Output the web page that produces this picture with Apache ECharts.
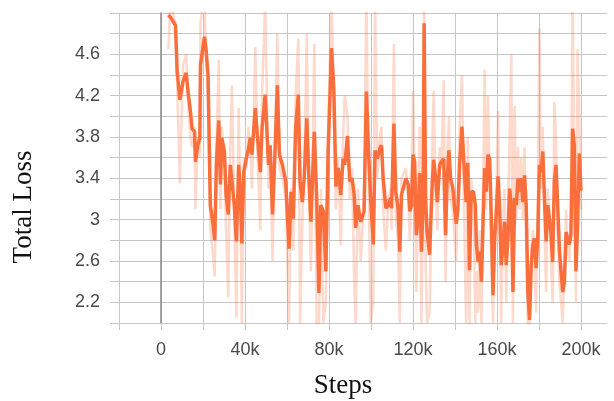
<!DOCTYPE html>
<html>
<head>
<meta charset="utf-8">
<script src="https://cdn.jsdelivr.net/npm/echarts@6/dist/echarts.min.js"></script>
<style>
html,body{margin:0;padding:0;background:#fff;}
#chart{width:614px;height:401px;}
</style>
</head>
<body>
<div id="chart"></div>
<script>
// training steps (thousands)
const steps = [3.5,4.5,6.9,7.7,9.0,10.5,12.0,12.7,14.0,14.8,16.0,16.4,17.5,18.5,18.8,20.7,21.4,22.4,23.5,24.6,25.6,26.4,27.5,28.3,29.0,30.2,31.0,32.0,33.0,33.8,34.9,35.9,37.0,37.8,38.5,39.4,40.6,41.7,42.5,43.3,44.9,46.0,47.3,48.1,49.6,
51.2,52.0,53.1,54.3,55.4,56.4,57.8,59.4,61.0,61.9,63.0,64.1,65.4,66.2,67.3,68.2,69.4,70.5,71.4,73.0,74.1,75.2,76.1,77.3,78.5,79.6,81.2,82.3,83.3,84.4,85.6,86.7,87.5,88.8,89.9,91.0,92.0,92.7,93.8,95.1,96.7,97.8,98.9,99.8,
101.1,101.9,103.0,104.2,105.0,105.8,107.1,108.2,109.3,109.8,110.9,111.8,112.9,113.7,114.5,115.3,116.6,117.7,118.5,119.3,120.0,120.8,121.6,122.4,123.2,124.0,124.8,125.3,126.0,126.7,127.9,129.0,129.8,130.8,131.6,132.7,133.5,134.6,135.5,136.3,137.1,137.9,139.0,139.8,140.6,141.4,142.2,143.3,144.2,145.3,146.1,146.9,147.7,148.8,149.7,
150.2,151.0,151.8,152.6,153.4,154.1,154.9,155.7,156.5,157.3,158.1,158.9,159.7,160.5,161.3,162.0,162.8,163.6,164.4,165.2,166.0,166.8,167.6,168.4,169.2,170.0,170.7,171.5,172.3,173.1,173.9,174.7,175.5,176.3,177.1,177.8,178.6,179.4,180.2,181.0,181.8,182.6,183.4,184.2,185.0,185.7,186.5,187.3,188.1,188.9,189.7,190.5,191.3,192.1,192.9,193.6,194.4,195.2,196.0,196.8,197.6,198.4,199.2,200.0];

// smoothed total loss
const smoothLoss = [4.98,4.96,4.88,4.43,4.16,4.34,4.42,4.27,4.05,3.88,3.85,3.56,3.72,3.79,4.50,4.77,4.66,4.40,3.14,2.98,2.80,3.56,3.96,3.34,3.79,3.66,3.24,3.05,3.53,3.37,3.14,2.79,3.53,3.27,2.77,3.46,3.59,3.69,3.79,3.63,4.08,3.79,3.46,3.88,4.21,
3.53,3.72,3.05,3.66,4.30,3.63,3.53,3.37,2.72,3.27,3.01,3.88,4.21,3.37,3.17,3.40,3.98,3.37,2.98,3.85,3.24,2.29,3.14,3.08,2.50,3.66,4.66,4.27,3.32,3.50,3.24,3.59,3.53,3.81,3.37,3.40,3.24,2.92,3.14,2.98,3.08,4.24,3.63,3.21,
2.76,3.67,3.59,3.69,3.72,3.40,3.11,3.14,3.21,3.11,3.93,3.27,3.11,2.69,3.24,3.30,3.40,3.34,3.08,3.14,3.63,3.56,2.85,3.01,3.45,2.69,3.14,4.90,3.21,2.88,2.66,3.27,3.58,3.40,3.17,3.53,3.56,3.59,2.85,3.40,3.67,3.40,3.30,3.11,2.96,3.11,3.53,3.90,3.56,3.17,3.55,2.51,3.27,3.27,3.14,
2.76,2.59,2.69,2.40,3.01,3.50,3.27,3.63,3.59,3.01,2.27,2.82,3.08,3.42,3.08,2.56,2.72,2.98,2.56,2.82,3.30,3.14,2.30,3.21,3.14,3.40,3.27,3.40,3.17,3.43,3.14,2.30,2.03,2.56,2.76,2.82,2.53,2.82,3.53,3.46,3.66,3.21,2.79,3.14,3.14,2.88,2.59,3.37,3.53,3.14,2.72,2.50,2.30,2.40,2.88,2.82,2.76,2.85,3.88,3.72,2.50,2.95,3.64,3.28];

// raw total loss
const rawLoss = [4.65,5.10,4.90,4.30,3.35,4.50,4.60,4.20,3.80,3.70,3.90,3.10,3.80,3.60,4.90,5.20,4.60,4.20,2.90,2.70,2.45,3.70,4.55,3.10,3.90,3.50,2.90,2.25,3.70,4.30,3.00,2.05,4.08,3.10,2.00,3.60,3.50,3.90,3.70,3.30,4.67,3.60,2.90,4.20,5.10,
3.30,3.60,2.60,3.80,4.80,3.50,3.40,3.20,2.00,3.30,2.70,4.20,4.75,2.00,3.00,3.50,4.80,3.20,2.50,4.70,2.00,1.90,3.30,2.00,2.20,3.90,5.20,4.00,3.10,3.60,2.75,3.80,4.20,4.00,3.20,3.50,2.40,2.00,3.30,2.60,3.20,5.20,3.30,2.00,
2.20,5.20,3.40,3.80,3.90,3.10,2.70,3.20,3.30,2.90,4.70,3.00,2.80,2.00,3.40,3.40,3.50,3.20,2.80,3.30,4.25,3.40,2.30,3.10,3.90,2.00,3.30,5.30,2.60,2.00,2.10,3.50,4.25,3.20,2.90,3.70,3.50,4.35,2.40,3.60,4.00,3.20,3.10,2.80,2.60,3.30,3.90,4.40,3.20,2.00,3.80,1.95,3.40,3.10,2.00,
2.50,2.10,2.90,2.00,3.30,4.45,3.10,4.20,3.40,2.60,2.00,2.90,3.20,4.05,2.90,2.00,2.90,3.30,2.20,3.00,3.80,4.60,2.00,4.10,3.00,3.70,3.10,3.60,3.00,3.70,2.80,2.00,1.90,2.70,2.90,2.60,2.10,3.10,4.85,3.30,3.90,3.00,2.30,3.30,3.00,2.60,2.20,4.14,3.80,2.90,2.40,2.20,2.00,2.50,3.10,2.70,2.60,3.00,5.20,3.50,2.20,4.65,4.00,3.10];

// axis ticks
const xTickLabels = ['0','40k','80k','120k','160k','200k'];
const yTickLabels = ['2.2','2.6','3','3.4','3.8','4.2','4.6'];

const chart = echarts.init(document.getElementById('chart'), null, {renderer:'canvas'});
const gridColor = '#c6c6c6';
const labelColor = '#4a4a4a';

const smoothData = steps.map((s,i)=>[s*1000, smoothLoss[i]]);
const rawData = steps.map((s,i)=>[s*1000, rawLoss[i]]);

chart.setOption({
  animation:false,
  backgroundColor:'#fff',
  grid:[
    {left:110, right:7, top:13, bottom:78},
    {left:119, right:33, top:13, bottom:78}
  ],
  xAxis:[
    {gridIndex:0, type:'value', min:0, max:1, show:false},
    {gridIndex:1, type:'value', min:-20000, max:200000, interval:20000,
     axisLine:{show:false},
     axisTick:{show:true, length:7, lineStyle:{color:gridColor}},
     splitLine:{show:true, lineStyle:{color:gridColor, width:1}},
     axisLabel:{margin:18, color:labelColor, fontSize:18, fontFamily:'Liberation Sans, Arial, sans-serif',
       formatter:function(v){
         const lab = v===0 ? '0' : (v/1000)+'k';
         return xTickLabels.indexOf(lab) >= 0 ? lab : '';
       }}
    }
  ],
  yAxis:[
    {gridIndex:0, type:'value', min:2, max:5, interval:0.2,
     axisLine:{show:false}, axisTick:{show:false},
     splitLine:{show:true, lineStyle:{color:gridColor, width:1}},
     axisLabel:{margin:10, color:labelColor, fontSize:18, fontFamily:'Liberation Sans, Arial, sans-serif',
       formatter:function(v){
         const lab = String(Math.round(v*10)/10);
         return yTickLabels.indexOf(lab) >= 0 ? lab : '';
       }}
    },
    {gridIndex:1, type:'value', min:2, max:5,
     axisLine:{show:true, onZero:true, lineStyle:{color:'#8a8a8a', width:1.5}},
     axisTick:{show:false}, axisLabel:{show:false}, splitLine:{show:false}
    }
  ],
  series:[
    {type:'line', xAxisIndex:1, yAxisIndex:1, data:rawData, showSymbol:false, symbol:'none',
     lineStyle:{color:'rgba(250,110,59,0.26)', width:2.5}, clip:true, z:2},
    {type:'line', xAxisIndex:1, yAxisIndex:1, data:smoothData, showSymbol:false, symbol:'none',
     lineStyle:{color:'#fa6e3b', width:3.5}, clip:true, z:3}
  ],
  graphic:[
    {type:'text', x:24, y:207, rotation:Math.PI/2,
     style:{text:'Total Loss', fill:'#111', font:'27px "Liberation Serif", "Times New Roman", serif', textAlign:'center', textVerticalAlign:'middle'}},
    {type:'text', x:343, y:386,
     style:{text:'Steps', fill:'#111', font:'27px "Liberation Serif", "Times New Roman", serif', textAlign:'center', textVerticalAlign:'middle'}}
  ]
});
</script>
</body>
</html>
